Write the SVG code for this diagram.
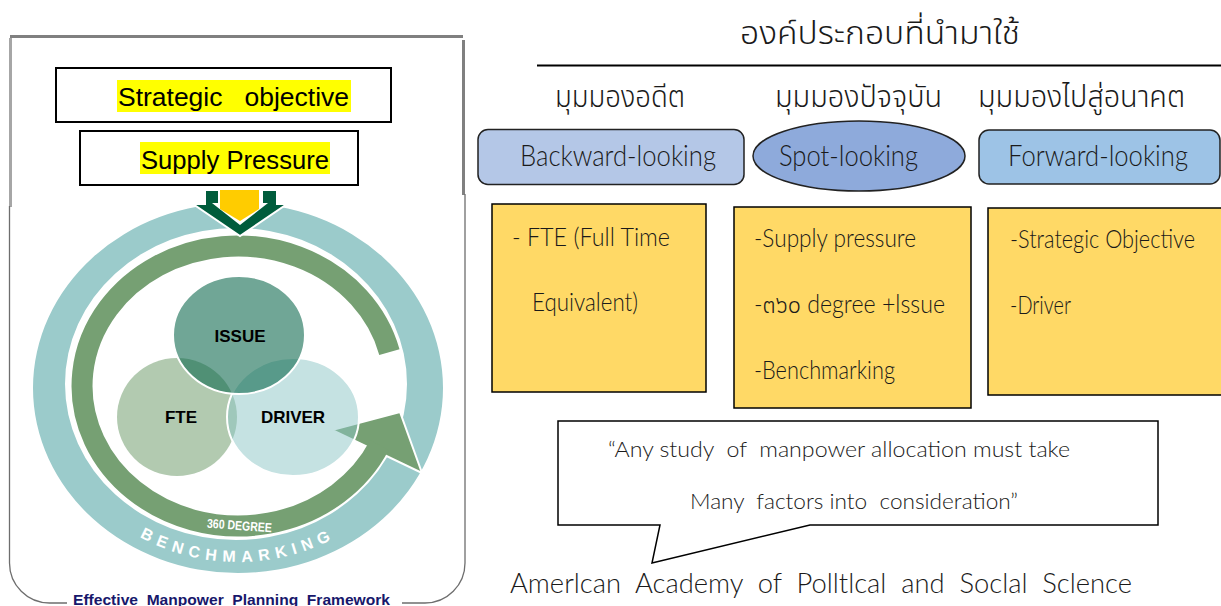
<svg xmlns="http://www.w3.org/2000/svg" xmlns:xlink="http://www.w3.org/1999/xlink" width="1221" height="606" viewBox="0 0 1221 606">
<style>
  .en { font-family: "Liberation Sans", Arial, sans-serif; }
  .lt { font-family: Lato, "Noto Sans Thai", "Noto Sans", sans-serif; font-weight: 300; fill: #1a1a1a; }
  .th { font-family: "Noto Sans Thai", "Noto Sans Thai UI", Lato, "Noto Sans", sans-serif; font-weight: 300; fill: #1a1a1a; }
  .box { fill: #ffffff; stroke: #000000; stroke-width: 2; }
  .hl { fill: #ffff00; }
  .ybox { fill: #ffd966; stroke: #000000; stroke-width: 1.5; }
  .hdr { stroke: #222222; stroke-width: 1.5; }
  .vt { font-family: "Liberation Sans", Arial, sans-serif; font-weight: bold; font-size: 17px; fill: #000; text-anchor: middle; }
  .frm { fill: none; stroke: #6e6e6e; stroke-width: 1.3; }
</style>
<defs>
  <clipPath id="c1"><rect x="117" y="80" width="234" height="32"/></clipPath>
  <clipPath id="c2"><rect x="140" y="142" width="190" height="32"/></clipPath>
  <path id="bmPath" d="M 48 388 A 190 174 0 0 0 428 388"/>
</defs>

<!-- left frame -->
<g id="frame">
  <line x1="10" y1="36.5" x2="463" y2="36.5" stroke="#808080" stroke-width="3"/>
  <line x1="10.5" y1="38" x2="10.5" y2="207" stroke="#a6a6a6" stroke-width="3"/>
  <line x1="463.5" y1="40" x2="463.5" y2="195" stroke="#808080" stroke-width="3"/>
  <path class="frm" d="M 9.5 206 V 563 A 40 40 0 0 0 49.5 603 H 67"/>
  <path class="frm" d="M 402 603 H 425 A 40 40 0 0 0 465 563 V 194"/>
  <text class="en" x="73" y="605" font-size="15" font-weight="bold" fill="#17176b" textLength="317" lengthAdjust="spacingAndGlyphs" xml:space="preserve">Effective  Manpower  Planning  Framework</text>
</g>

<g id="strategic-objective">
  <rect class="box" x="56" y="68" width="335" height="54"/>
  <rect class="hl" x="117" y="80" width="234" height="32"/>
  <text class="en" x="118" y="106" font-size="25" fill="#000" textLength="231" lengthAdjust="spacingAndGlyphs" clip-path="url(#c1)" xml:space="preserve">Strategic   objective</text>
</g>

<g id="supply-pressure">
  <rect class="box" x="80" y="131" width="278" height="54"/>
  <rect class="hl" x="140" y="142" width="190" height="32"/>
  <text class="en" x="141" y="169" font-size="25" fill="#000" textLength="188" lengthAdjust="spacingAndGlyphs" clip-path="url(#c2)">Supply Pressure</text>
</g>

<g id="benchmarking-ring">
  <path fill="#9bcbcb" fill-rule="evenodd" d="M 33 388 A 205 185 0 1 0 443 388 A 205 185 0 1 0 33 388 Z M 65 384 A 171 156 0 1 0 407 384 A 171 156 0 1 0 65 384 Z"/>
  <text class="en" font-size="16" font-weight="bold" fill="#ffffff" letter-spacing="6"><textPath xlink:href="#bmPath" href="#bmPath" startOffset="50%" text-anchor="middle">BENCHMARKING</textPath></text>
</g>

<g id="degree-arrow">
  <polygon points="332,430 400,412 422,473" fill="#76a073" stroke="#ffffff" stroke-width="2" stroke-linejoin="miter"/>
  <path d="M 389.4 352.1 A 156 140 0 1 0 379.4 445.2" fill="none" stroke="#76a073" stroke-width="21"/>
  <text class="en" x="207" y="530" font-size="13" font-weight="bold" fill="#ffffff" textLength="65" lengthAdjust="spacingAndGlyphs" transform="rotate(4 240 525)">360 DEGREE</text>
</g>

<g id="down-arrow">
  <polygon points="205,190 277,190 277,204 287,204 240,236 193,204 205,204" fill="#005c3c" stroke="#ffffff" stroke-width="2"/>
  <polygon points="218,190 263,190 263,203 268,203 240,225 212,203 218,203" fill="#ffffff"/>
  <polygon points="220,190 259,190 259,209 240,221 220,209" fill="#ffcc00"/>
</g>

<g id="fte">
  <ellipse cx="177" cy="417" rx="60" ry="59" fill="#b2cab0"/>
</g>
<g id="driver">
  <ellipse cx="293" cy="417" rx="66" ry="59" fill="#8cc5c5" fill-opacity="0.5" stroke="#ffffff" stroke-width="2"/>
</g>
<g id="issue">
  <ellipse cx="239" cy="335" rx="66" ry="59" fill="#08654a" fill-opacity="0.58" stroke="#ffffff" stroke-width="2"/>
</g>
<g id="circle-labels">
  <text class="vt" x="240" y="342">ISSUE</text>
  <text class="vt" x="181" y="423">FTE</text>
  <text class="vt" x="293" y="423">DRIVER</text>
</g>

<!-- right side -->
<g id="title">
  <text class="th" x="880" y="44" font-size="32" text-anchor="middle" textLength="280" lengthAdjust="spacingAndGlyphs">องค์ประกอบที่นำมาใช้</text>
  <line x1="537" y1="65.5" x2="1221" y2="65.5" stroke="#000" stroke-width="2"/>
</g>

<g id="backward">
  <text class="th" x="555" y="107" font-size="31" textLength="130" lengthAdjust="spacingAndGlyphs">มุมมองอดีต</text>
  <rect class="hdr" x="478" y="129.5" width="266" height="55" rx="10" fill="#b4c7e7"/>
  <text class="lt" x="520" y="166" font-size="29" textLength="196" lengthAdjust="spacingAndGlyphs">Backward-looking</text>
</g>

<g id="spot">
  <text class="th" x="775" y="107" font-size="31" textLength="167" lengthAdjust="spacingAndGlyphs">มุมมองปัจจุบัน</text>
  <ellipse class="hdr" cx="859" cy="156" rx="106" ry="35" fill="#8eaadb"/>
  <text class="lt" x="779" y="166" font-size="29" textLength="139" lengthAdjust="spacingAndGlyphs">Spot-looking</text>
</g>

<g id="forward">
  <text class="th" x="978" y="107" font-size="31" textLength="207" lengthAdjust="spacingAndGlyphs">มุมมองไปสู่อนาคต</text>
  <rect class="hdr" x="979" y="130" width="241" height="54" rx="10" fill="#9dc3e6"/>
  <text class="lt" x="1008" y="166" font-size="29" textLength="180" lengthAdjust="spacingAndGlyphs">Forward-looking</text>
</g>

<g id="past-box">
  <rect class="ybox" x="492" y="204" width="214" height="188"/>
  <text class="lt" x="512" y="246" font-size="25" textLength="158" lengthAdjust="spacingAndGlyphs">- FTE (Full Time</text>
  <text class="lt" x="532" y="311" font-size="25" textLength="106" lengthAdjust="spacingAndGlyphs">Equivalent)</text>
</g>

<g id="present-box">
  <rect class="ybox" x="734" y="207" width="237" height="201"/>
  <text class="lt" x="754" y="247" font-size="25" textLength="162" lengthAdjust="spacingAndGlyphs">-Supply pressure</text>
  <text class="lt" x="754" y="313" font-size="25" textLength="191" lengthAdjust="spacingAndGlyphs">-๓๖๐ degree +lssue</text>
  <text class="lt" x="754" y="379" font-size="25" textLength="141" lengthAdjust="spacingAndGlyphs">-Benchmarking</text>
</g>

<g id="future-box">
  <rect class="ybox" x="988" y="208" width="240" height="187"/>
  <text class="lt" x="1010" y="248" font-size="25" textLength="185" lengthAdjust="spacingAndGlyphs">-Strategic Objective</text>
  <text class="lt" x="1010" y="314" font-size="25" textLength="61" lengthAdjust="spacingAndGlyphs">-Driver</text>
</g>

<g id="quote">
  <path d="M 558 421 H 1158 V 525 H 810 L 652 563 L 660 525 H 558 Z" fill="#ffffff" stroke="#000" stroke-width="1.5" stroke-linejoin="miter"/>
  <text class="lt" x="608" y="457" font-size="22" textLength="462" lengthAdjust="spacingAndGlyphs" xml:space="preserve">“Any study  of  manpower allocation must take</text>
  <text class="lt" x="690" y="509" font-size="22" textLength="328" lengthAdjust="spacingAndGlyphs" xml:space="preserve">Many  factors into  consideration”</text>
</g>

<g id="source">
  <text class="lt" x="510" y="593" font-size="27" textLength="622" lengthAdjust="spacingAndGlyphs" xml:space="preserve">Amerlcan  Academy  of  Polltlcal  and  Soclal  Sclence</text>
</g>
</svg>
